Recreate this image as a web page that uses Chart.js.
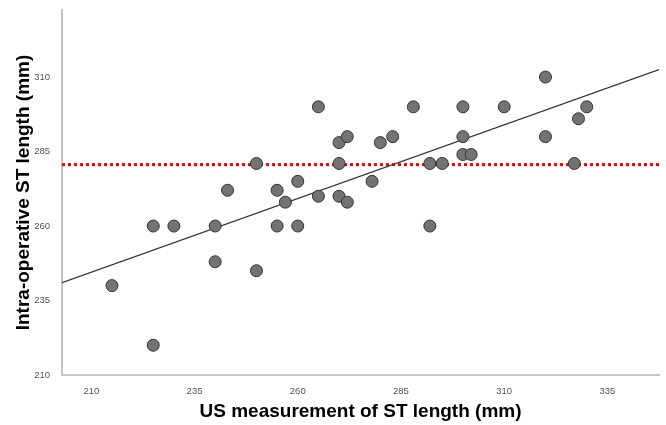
<!DOCTYPE html>
<html>
<head>
<meta charset="utf-8">
<script src="https://cdn.jsdelivr.net/npm/chart.js@4"></script>
<style>
  html, body { margin: 0; padding: 0; background: #fff; }
  #wrap { width: 666px; height: 425px; }
</style>
</head>
<body>
<div id="wrap"><canvas id="stChart" width="666" height="425"></canvas></div>
<script>
// US measurement (x) vs intra-operative (y) ST length, mm
const usLength = [215, 225, 225, 230, 240, 240, 243, 250, 250, 255, 255, 257, 260, 260, 265, 265, 270, 272, 270, 270, 272, 278, 280, 283, 288, 292, 292, 295, 300, 300, 300, 302, 310, 320, 320, 327, 328, 330];
const opLength = [240, 260, 220, 260, 260, 248, 272, 281, 245, 272, 260, 268, 275, 260, 300, 270, 288, 290, 281, 270, 268, 275, 288, 290, 300, 281, 260, 281, 300, 290, 284, 284, 300, 310, 290, 281, 296, 300];

// fitted line and mean reference line
const fitX = [202.9, 347.5];
const fitY = [241.0, 312.5];
const meanX = [202.9, 347.5];
const meanY = [280.6, 280.6];

const xTicks = [210, 235, 260, 285, 310, 335];
const yTicks = [210, 235, 260, 285, 310];

const toPoints = (xs, ys) => xs.map((x, i) => ({ x: x, y: ys[i] }));

const ctx = document.getElementById('stChart');

new Chart(ctx, {
    type: 'scatter',
    data: {
        datasets: [
            {
                label: 'Mean',
                type: 'line',
                data: toPoints(meanX, meanY),
                borderColor: '#ee0000',
                borderWidth: 3,
                borderDash: [3, 3],
                pointRadius: 0,
                fill: false,
                order: 3
            },
            {
                label: 'Fit',
                type: 'line',
                data: toPoints(fitX, fitY),
                borderColor: '#333333',
                borderWidth: 1.2,
                pointRadius: 0,
                fill: false,
                order: 2
            },
            {
                label: 'Patients',
                data: toPoints(usLength, opLength),
                backgroundColor: '#737373',
                borderColor: '#333333',
                borderWidth: 1,
                pointRadius: 6,
                order: 1
            }
        ]
    },
    options: {
        responsive: false,
        animation: false,
        layout: { padding: { top: 10, right: 6, left: 0, bottom: 0 } },
        plugins: {
            legend: { display: false },
            tooltip: { enabled: false }
        },
        scales: {
            x: {
                type: 'linear',
                min: 202.9,
                max: 347.5,
                grid: { display: false },
                border: { display: true, color: '#c4c4c4', width: 2 },
                afterBuildTicks: (s) => { s.ticks = xTicks.map(v => ({ value: v })); },
                afterFit: (s) => { s.height = 50; },
                ticks: {
                    color: '#555',
                    padding: 3,
                    font: { family: 'Liberation Sans', size: 9.5 }
                },
                title: {
                    display: true,
                    text: 'US measurement of ST length (mm)',
                    color: '#000',
                    padding: { top: 0, bottom: 2 },
                    font: { family: 'Liberation Sans', size: 19, weight: 'bold' }
                }
            },
            y: {
                type: 'linear',
                min: 210,
                max: 332.5,
                grid: { display: false },
                border: { display: true, color: '#c4c4c4', width: 2 },
                afterBuildTicks: (s) => { s.ticks = yTicks.map(v => ({ value: v })); },
                afterFit: (s) => { s.width = 62; },
                ticks: {
                    color: '#555',
                    padding: 4,
                    font: { family: 'Liberation Sans', size: 9.5 }
                },
                title: {
                    display: true,
                    text: 'Intra-operative ST length (mm)',
                    color: '#000',
                    padding: { top: 12, bottom: 0 },
                    font: { family: 'Liberation Sans', size: 19, weight: 'bold' }
                }
            }
        }
    }
});
</script>
</body>
</html>
